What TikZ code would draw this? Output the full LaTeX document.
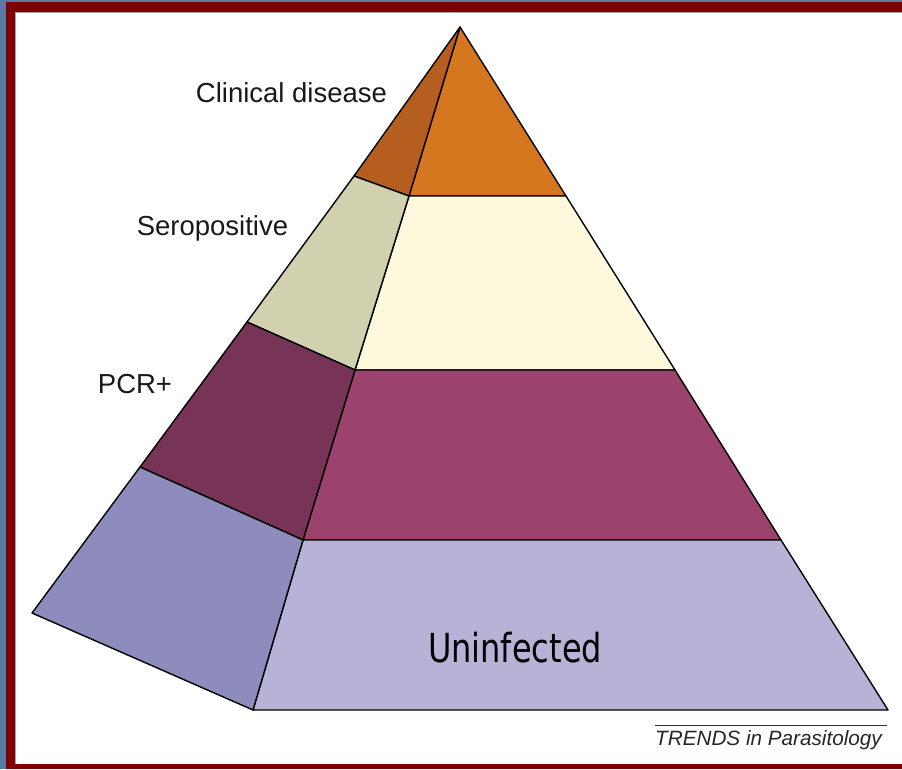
\documentclass[tikz,border=0pt]{standalone}
\usepackage{fontspec}
\setmainfont{Liberation Sans}
\newfontfamily\unifont{DejaVu Sans}
\definecolor{bgblue}{HTML}{587AA3}
\definecolor{framered}{HTML}{7E0000}
\definecolor{topR}{HTML}{D4771F}
\definecolor{topL}{HTML}{B55E20}
\definecolor{seroL}{HTML}{D1D1B0}
\definecolor{seroR}{HTML}{FEF8DC}
\definecolor{pcrL}{HTML}{773456}
\definecolor{pcrR}{HTML}{9B426D}
\definecolor{uniL}{HTML}{8E8BBD}
\definecolor{uniR}{HTML}{B7B3D6}
\begin{document}
\begin{tikzpicture}[x=1pt,y=-1pt,
  face/.style={draw=black,line width=1.4pt,line join=round},
  lbl/.style={font=\fontsize{27.5}{30}\selectfont,inner sep=0pt,anchor=base,text=black!90}]
\useasboundingbox (0,0) rectangle (902,769);
% background and frame
\fill[bgblue] (0,0) rectangle (902,769);
\fill[framered] (6,2) rectangle (902,769);
\fill[white] (15,12) rectangle (902,764);
\draw[gray!70,line width=0.8pt] (15,764) -- (15,12) -- (902,12);
% coordinates
\coordinate (A) at (460,27);
\coordinate (L1) at (354,176); \coordinate (R1) at (409,196); \coordinate (E1) at (566,196);
\coordinate (L2) at (247,322); \coordinate (R2) at (355,370); \coordinate (E2) at (675,370);
\coordinate (L3) at (140,467); \coordinate (R3) at (303,540); \coordinate (E3) at (781,540);
\coordinate (L4) at (32,613);  \coordinate (R4) at (253,710); \coordinate (E4) at (888,710);
% top
\filldraw[face,fill=topR] (A) -- (R1) -- (E1) -- cycle;
\filldraw[face,fill=topL] (A) -- (L1) -- (R1) -- cycle;
% seropositive
\filldraw[face,fill=seroR] (R1) -- (E1) -- (E2) -- (R2) -- cycle;
\filldraw[face,fill=seroL] (L1) -- (R1) -- (R2) -- (L2) -- cycle;
% PCR+
\filldraw[face,fill=pcrR] (R2) -- (E2) -- (E3) -- (R3) -- cycle;
\filldraw[face,fill=pcrL] (L2) -- (R2) -- (R3) -- (L3) -- cycle;
% uninfected
\filldraw[face,fill=uniR] (R3) -- (E3) -- (E4) -- (R4) -- cycle;
\filldraw[face,fill=uniL] (L3) -- (R3) -- (R4) -- (L4) -- cycle;
% labels
\node[lbl] (clin) at (291.5,102) {Clinical disease};
\node[lbl] (sero) at (212.5,235) {Seropositive};
\node[lbl] (pcr) at (135,393) {PCR+};
\node[inner sep=0pt,anchor=base] (uni) at (515,662) {\scalebox{0.8}[1]{\unifont\fontsize{40}{44}\selectfont Uninfected}};
% journal mark
\coordinate (tl) at (655,725); \coordinate (tr) at (887,725);
\draw[black!80,line width=1pt] (tl) -- (tr);
\node[inner sep=0pt,anchor=base west,font=\fontsize{20.7}{23}\selectfont\itshape,text=black!85] (trends) at (655,745) {TRENDS in Parasitology};
\end{tikzpicture}
\end{document}
